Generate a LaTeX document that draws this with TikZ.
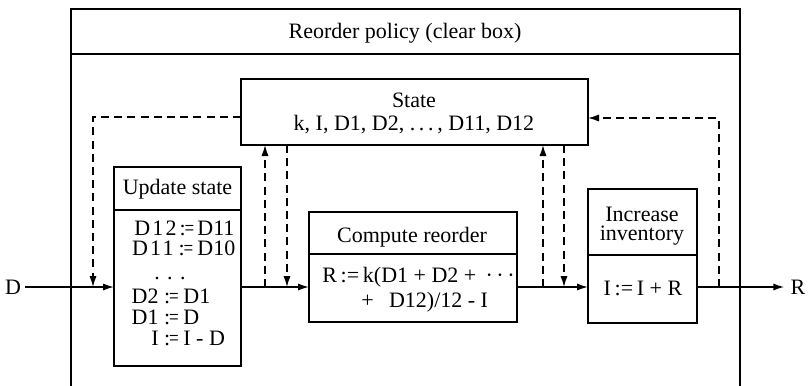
\documentclass[tikz,border=0pt]{standalone}
\usepackage{fontspec}
\usepackage{graphicx}
\setmainfont{Liberation Serif}
\newfontfamily\spacedserif[LetterSpace=10]{Liberation Serif}
\usetikzlibrary{arrows.meta}
% narrow assignment sign
\newcommand\becomes{:\kern-0.6pt\scalebox{0.78}[1]{=}}
% one assignment line: target right-aligned at #3, sign centred at #4, value left-aligned at #5
\newcommand\assignat[7]{%
  \node[lbl] (#1c) at (#4,#2) {\becomes};
  \node[lbl, anchor=base east] (#1l) at (#3,#2) {#6};
  \node[lbl, anchor=base west] (#1r) at (#5,#2) {#7};}
\begin{document}
\begin{tikzpicture}[x=0.5pt,y=-0.5pt,
  box/.style={draw, line width=0.8pt, inner sep=0pt, outer sep=0pt},
  rule/.style={line width=0.8pt},
  flow/.style={line width=0.8pt, -{Latex[length=5.5pt,width=3.6pt]}},
  ctl/.style={line width=0.7pt, dash pattern=on 4pt off 2.6pt, -{Latex[length=5.5pt,width=3.6pt]}},
  lbl/.style={font=\fontsize{11}{11}\selectfont, inner sep=0pt, anchor=base},
]
\useasboundingbox (0,0) rectangle (810,386);

% enclosing "clear box" frame, open at the bottom
\draw[rule] (71,386) -- (71,9) -- (740,9) -- (740,386);
\draw[rule] (71,54) -- (740,54);
\node[lbl] (title) at (405,38) {Reorder policy (clear box)};

% state store
\node[box, minimum width=173.5pt, minimum height=33pt] (st) at (414.5,112) {};
\node[lbl] (stname) at (414,107) {State};
\node[lbl] (stvars) at (414,130) {k, I, D1, D2, .\,.\,.\,, D11, D12};

% update state
\node[box, minimum width=63.5pt, minimum height=99.5pt] (upd) at (177.5,266.5) {};
\draw[rule] (upd.west |- 0,210) -- (upd.east |- 0,210);
\node[lbl] (updname) at (177.5,194) {Update state};
\assignat{u1}{235}{177}{187}{197}{\spacedserif D12}{D11}
\assignat{u2}{255}{174}{186}{197}{\spacedserif D11}{D10}
\node[lbl] (u3) at (170,279) {.\,\,.\,\,.};
\assignat{u4}{303}{159}{171.5}{183}{D2}{D1}
\assignat{u5}{324}{159}{171.5}{183}{D1}{D}
\assignat{u6}{345}{159}{171.5}{183}{I}{I - D}

% compute reorder
\node[box, minimum width=104pt, minimum height=55pt] (cmp) at (413,267) {};
\draw[rule] (cmp.west |- 0,254) -- (cmp.east |- 0,254);
\node[lbl] (cmpname) at (412,242) {Compute reorder};
\node[lbl, anchor=base west] (c1) at (322,282) {R\,:=\,k(D1 + D2 + \,·\,·\,·};
\node[lbl, anchor=base west] (c2) at (361,307) {+\;\, D12)/12 - I};

% increase inventory
\node[box, minimum width=54.5pt, minimum height=67pt] (inc) at (642.5,256) {};
\draw[rule] (inc.west |- 0,255) -- (inc.east |- 0,255);
\node[lbl] (incname1) at (642,221) {Increase};
\node[lbl] (incname2) at (642,240) {inventory};
\node[lbl] (incbody) at (643,295) {I\,:=\,I + R};

% external flow
\node[lbl, anchor=center] (din) at (13,287) {D};
\node[lbl, anchor=center] (rout) at (798,287) {R};
\coordinate (lvl) at (0,287);

\draw[flow] ([xshift=2pt]din.east) -- (lvl -| upd.west);
\draw[flow] (lvl -| upd.east) -- (lvl -| cmp.west);
\draw[flow] (lvl -| cmp.east) -- (lvl -| inc.west);
\draw[flow] (lvl -| inc.east) -- ([xshift=-3pt]rout.west);

% state accesses
\coordinate (k1) at (93,117);
\draw[ctl] (k1 -| st.west) -- (k1) -- (k1 |- lvl);
\coordinate (a1) at (265,287);
\coordinate (a2) at (287,287);
\coordinate (a3) at (543,287);
\coordinate (a4) at (564,287);
\draw[ctl] (a1) -- (a1 |- st.south);
\draw[ctl] (a2 |- st.south) -- (a2);
\draw[ctl] (a3) -- (a3 |- st.south);
\draw[ctl] (a4 |- st.south) -- (a4);
\coordinate (k2) at (719,118);
\draw[ctl] (k2 |- lvl) -- (k2) -- (k2 -| st.east);
\end{tikzpicture}
\end{document}
